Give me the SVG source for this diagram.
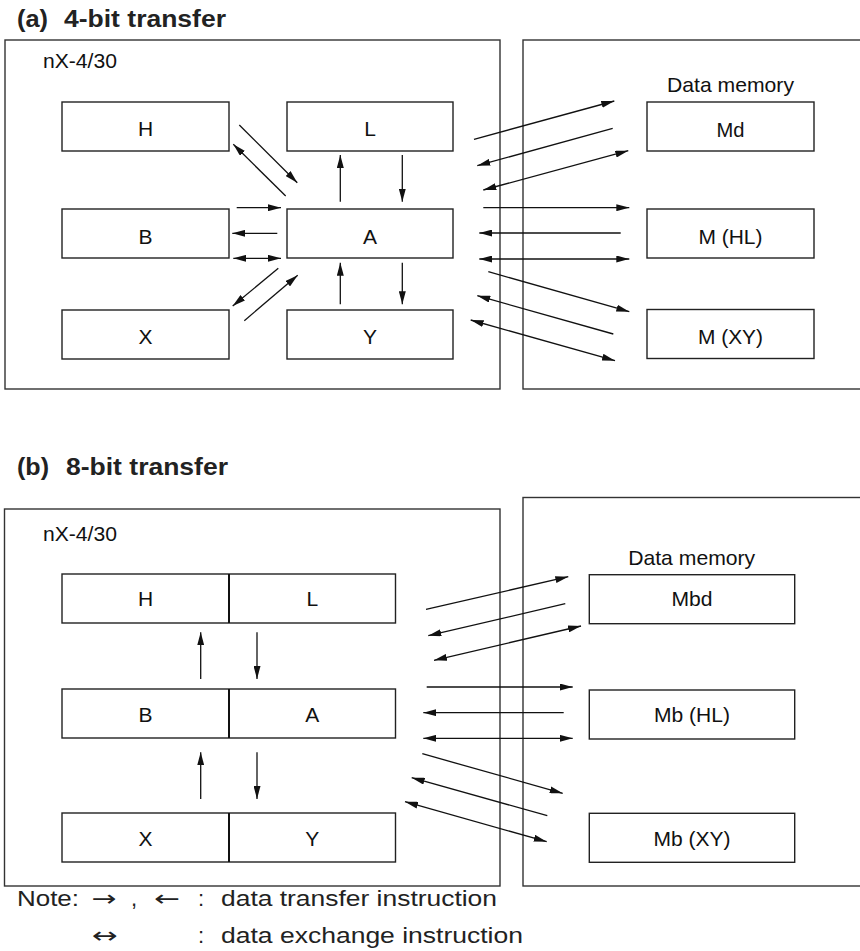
<svg xmlns="http://www.w3.org/2000/svg" width="860" height="951" viewBox="0 0 860 951">
<defs>
<marker id="ah" viewBox="0 0 13 7" refX="13" refY="3.5" markerWidth="13" markerHeight="7" markerUnits="userSpaceOnUse" orient="auto-start-reverse">
<path d="M0,0 L13,3.5 L0,7 z" fill="#111"/>
</marker>
<style>
.frame{fill:#fff;stroke:#333;stroke-width:1.4}
.box{fill:#fff;stroke:#222;stroke-width:1.4}
.div{stroke:#111;stroke-width:2}
.lbl{font-family:"Liberation Sans",Arial,sans-serif;font-size:21px;fill:#111;text-anchor:middle}
.txt{font-family:"Liberation Sans",Arial,sans-serif;font-size:21px;fill:#111}
.ttl{font-family:"Liberation Sans",Arial,sans-serif;font-size:23px;font-weight:bold;fill:#222}
.note{font-family:"Liberation Sans",Arial,sans-serif;font-size:22px;fill:#222}
.sym{font-family:"DejaVu Sans",sans-serif;font-size:22px;fill:#222}
.c line{stroke:#111;stroke-width:1.3;fill:none}
.e{marker-end:url(#ah)}
.b{marker-start:url(#ah);marker-end:url(#ah)}
</style>
</defs>
<rect width="860" height="951" fill="#fff"/>

<!-- (a) 4-bit transfer -->
<g id="title-a">
<text class="ttl" x="17" y="27" textLength="31" lengthAdjust="spacingAndGlyphs">(a)</text>
<text class="ttl" x="64" y="27" textLength="162" lengthAdjust="spacingAndGlyphs">4-bit transfer</text>
</g>
<g id="cpu-a">
<rect class="frame" x="5" y="40" width="495" height="349"/>
<text class="txt" x="43" y="68" textLength="74" lengthAdjust="spacingAndGlyphs">nX-4/30</text>
</g>
<g id="mem-a">
<rect class="frame" x="523" y="40" width="350" height="349"/>
<text class="lbl" x="730.5" y="91.5" textLength="127" lengthAdjust="spacingAndGlyphs">Data memory</text>
</g>
<g id="a-H"><rect class="box" x="62" y="102" width="167" height="49"/><text class="lbl" x="145.5" y="136">H</text></g>
<g id="a-L"><rect class="box" x="287" y="102" width="166" height="49"/><text class="lbl" x="370" y="136">L</text></g>
<g id="a-B"><rect class="box" x="62" y="209" width="167" height="49"/><text class="lbl" x="145.5" y="243.5">B</text></g>
<g id="a-A"><rect class="box" x="287" y="209" width="166" height="49"/><text class="lbl" x="370" y="243.5">A</text></g>
<g id="a-X"><rect class="box" x="62" y="310" width="167" height="49"/><text class="lbl" x="145.5" y="343.5">X</text></g>
<g id="a-Y"><rect class="box" x="287" y="310" width="166" height="49"/><text class="lbl" x="370" y="343.5">Y</text></g>
<g id="a-Md"><rect class="box" x="647" y="102" width="167" height="49"/><text class="lbl" x="730.5" y="136.5" textLength="28" lengthAdjust="spacingAndGlyphs">Md</text></g>
<g id="a-MHL"><rect class="box" x="647" y="209" width="167" height="49"/><text class="lbl" x="730.5" y="243.5" textLength="64" lengthAdjust="spacingAndGlyphs">M (HL)</text></g>
<g id="a-MXY"><rect class="box" x="647" y="309.5" width="167" height="49"/><text class="lbl" x="730.5" y="343.5" textLength="65" lengthAdjust="spacingAndGlyphs">M (XY)</text></g>

<g id="connectors-a" class="c">
<line class="e" x1="239.3" y1="125" x2="297.3" y2="182.7"/>
<line class="e" x1="285.7" y1="196" x2="233.3" y2="144.3"/>
<line class="e" x1="340.3" y1="201.7" x2="340.3" y2="155"/>
<line class="e" x1="402.3" y1="155" x2="402.3" y2="201.7"/>
<line class="e" x1="236.7" y1="207.7" x2="281" y2="207.7"/>
<line class="e" x1="277.3" y1="233.3" x2="232.3" y2="233.3"/>
<line class="b" x1="233.3" y1="258.3" x2="281" y2="258.3"/>
<line class="e" x1="278.3" y1="268.3" x2="232.7" y2="306"/>
<line class="e" x1="244.3" y1="320.7" x2="297.7" y2="275.3"/>
<line class="e" x1="340.3" y1="304.3" x2="340.3" y2="262.7"/>
<line class="e" x1="402.3" y1="262.7" x2="402.3" y2="304.3"/>
<line class="e" x1="474" y1="139.3" x2="614.3" y2="101"/>
<line class="e" x1="612.7" y1="128.3" x2="477.3" y2="165.7"/>
<line class="b" x1="628.3" y1="150.7" x2="483.3" y2="190"/>
<line class="e" x1="483.3" y1="207.7" x2="629.3" y2="207.7"/>
<line class="e" x1="620.7" y1="233" x2="479.3" y2="233"/>
<line class="b" x1="479.3" y1="259" x2="629.3" y2="259"/>
<line class="e" x1="488.3" y1="271.7" x2="629.3" y2="311.7"/>
<line class="e" x1="613.3" y1="334" x2="477.3" y2="295.7"/>
<line class="b" x1="470.7" y1="320" x2="615" y2="360.7"/>
</g>

<!-- (b) 8-bit transfer -->
<g id="title-b">
<text class="ttl" x="17" y="475" textLength="32" lengthAdjust="spacingAndGlyphs">(b)</text>
<text class="ttl" x="66" y="475" textLength="162" lengthAdjust="spacingAndGlyphs">8-bit transfer</text>
</g>
<g id="cpu-b">
<rect class="frame" x="4.5" y="509" width="495.5" height="377"/>
<text class="txt" x="43" y="541" textLength="74" lengthAdjust="spacingAndGlyphs">nX-4/30</text>
</g>
<g id="mem-b">
<rect class="frame" x="523" y="497.5" width="350" height="388.5"/>
<text class="lbl" x="691.7" y="565" textLength="127" lengthAdjust="spacingAndGlyphs">Data memory</text>
</g>
<g id="b-HL">
<rect class="box" x="62" y="574" width="333.5" height="49"/>
<line class="div" x1="229" y1="574" x2="229" y2="623"/>
<text class="lbl" x="145.5" y="606">H</text>
<text class="lbl" x="312.3" y="606">L</text>
</g>
<g id="b-BA">
<rect class="box" x="62" y="689" width="333.5" height="49"/>
<line class="div" x1="229" y1="689" x2="229" y2="738"/>
<text class="lbl" x="145.5" y="721.5">B</text>
<text class="lbl" x="312.3" y="721.5">A</text>
</g>
<g id="b-XY">
<rect class="box" x="62" y="813" width="333.5" height="49"/>
<line class="div" x1="229" y1="813" x2="229" y2="862"/>
<text class="lbl" x="145.5" y="845.5">X</text>
<text class="lbl" x="312.3" y="845.5">Y</text>
</g>
<g id="b-Mbd"><rect class="box" x="589.3" y="574.7" width="205.4" height="49"/><text class="lbl" x="692" y="605.7" textLength="41" lengthAdjust="spacingAndGlyphs">Mbd</text></g>
<g id="b-MbHL"><rect class="box" x="589.3" y="690" width="205.4" height="49"/><text class="lbl" x="692" y="722.3" textLength="76" lengthAdjust="spacingAndGlyphs">Mb (HL)</text></g>
<g id="b-MbXY"><rect class="box" x="589.3" y="813.3" width="205.4" height="49"/><text class="lbl" x="692" y="845.7" textLength="77" lengthAdjust="spacingAndGlyphs">Mb (XY)</text></g>

<g id="connectors-b" class="c">
<line class="e" x1="200.7" y1="679" x2="200.7" y2="632.3"/>
<line class="e" x1="257" y1="632.3" x2="257" y2="679"/>
<line class="e" x1="200.7" y1="799" x2="200.7" y2="752.3"/>
<line class="e" x1="257" y1="752.3" x2="257" y2="799"/>
<line class="e" x1="426" y1="609.3" x2="568.3" y2="576.7"/>
<line class="e" x1="565.3" y1="603.7" x2="428.3" y2="635.7"/>
<line class="b" x1="581" y1="626" x2="434" y2="660.3"/>
<line class="e" x1="426.7" y1="687" x2="572.7" y2="687"/>
<line class="e" x1="563.7" y1="712.7" x2="423.3" y2="712.7"/>
<line class="b" x1="423.3" y1="738.3" x2="572.7" y2="738.3"/>
<line class="e" x1="422.3" y1="753.7" x2="562.7" y2="793.3"/>
<line class="e" x1="547.3" y1="815.7" x2="411.7" y2="777.7"/>
<line class="b" x1="405" y1="801.7" x2="546.7" y2="841.7"/>
</g>

<!-- Note -->
<g id="note">
<text class="note" x="17" y="906" textLength="62" lengthAdjust="spacingAndGlyphs">Note:</text>
<text class="sym" x="91.7" y="906" textLength="25" lengthAdjust="spacingAndGlyphs">→</text>
<text class="note" x="131" y="906">,</text>
<text class="sym" x="154" y="906" textLength="26" lengthAdjust="spacingAndGlyphs">←</text>
<text class="note" x="198" y="906">:</text>
<text class="note" x="221" y="906" textLength="276" lengthAdjust="spacingAndGlyphs">data transfer instruction</text>
<text class="sym" x="91.7" y="943" textLength="26" lengthAdjust="spacingAndGlyphs">↔</text>
<text class="note" x="198" y="943">:</text>
<text class="note" x="221" y="943" textLength="302" lengthAdjust="spacingAndGlyphs">data exchange instruction</text>
</g>
</svg>
